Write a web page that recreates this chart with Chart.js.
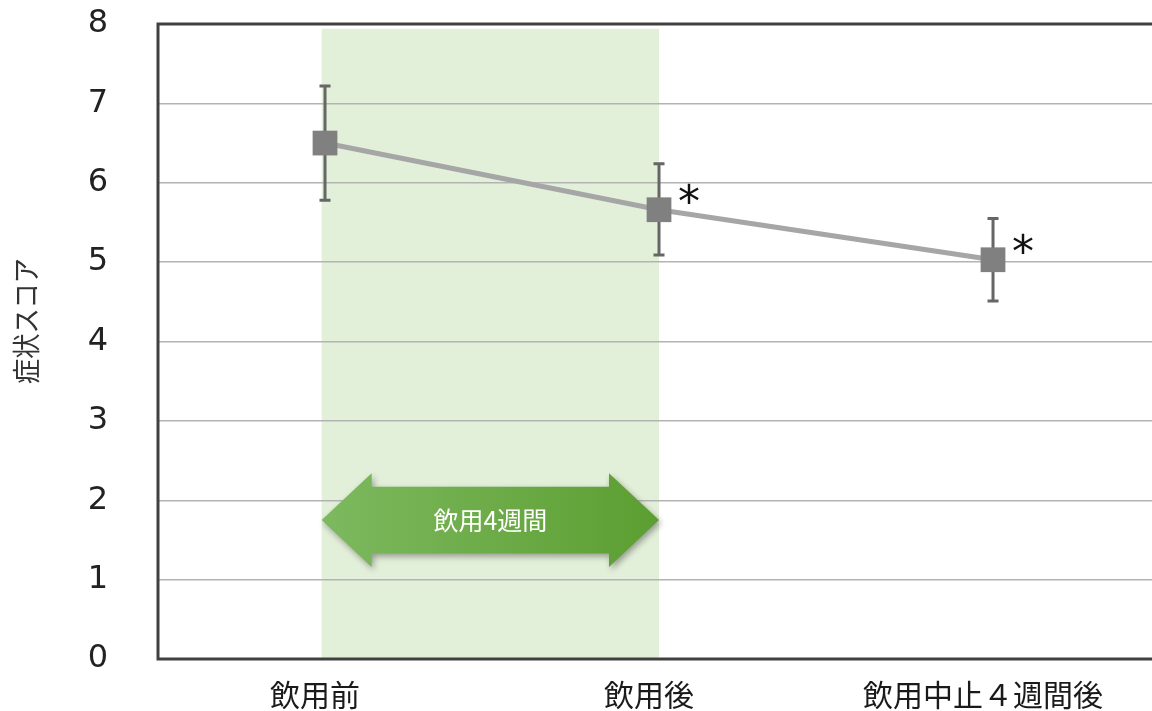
<!DOCTYPE html>
<html>
<head>
<meta charset="utf-8">
<script src="https://cdn.jsdelivr.net/npm/chart.js@4.4.1/dist/chart.umd.min.js"></script>
<style>
  html, body { margin: 0; padding: 0; background: #fff; overflow: hidden; }
  #wrap { width: 1152px; height: 711px; position: relative; }
  canvas { display: block; }
</style>
</head>
<body>
<div id="wrap"><canvas id="myChart"></canvas></div>
<script>
// data
const labels = ['飲用前', '飲用後', '飲用中止４週間後'];
const scores = [6.5, 5.66, 5.03];
const errUp = [0.72, 0.58, 0.52];
const errDown = [0.72, 0.57, 0.52];
const signif = [false, true, true];
const yTicks = [0, 1, 2, 3, 4, 5, 6, 7, 8];
const yTitle = '症状スコア';
const periodLabel = '飲用4週間';
const periodFrom = -0.01, periodTo = 1.0;   // green band (category index)
const arrowY = [1.16, 1.33, 2.17, 2.34];    // tip bottom, shaft bottom, shaft top, tip top

const points = scores.map((v, i) => ({ x: i, y: v }));
const jpFont = '"Noto Sans CJK JP", sans-serif';

// plugin: band, error bars, borders, arrow, asterisks, y title
const extras = {
  id: 'extras',
  beforeDraw(chart) {
    const { ctx, chartArea, scales: { x, y } } = chart;
    ctx.save();
    ctx.fillStyle = '#e2efd9';
    const x0 = x.getPixelForValue(periodFrom), x1 = x.getPixelForValue(periodTo);
    const yt = y.getPixelForValue(7.94);
    ctx.fillRect(x0, yt, x1 - x0, chartArea.bottom - yt);
    ctx.restore();
  },
  beforeDatasetsDraw(chart) {
    const { ctx, chartArea, scales: { x, y } } = chart;
    ctx.save();
    // borders
    ctx.strokeStyle = '#404040';
    ctx.lineWidth = 3;
    ctx.beginPath();
    ctx.moveTo(chartArea.right + 5, chartArea.top);
    ctx.lineTo(chartArea.left, chartArea.top);
    ctx.lineTo(chartArea.left, chartArea.bottom);
    ctx.lineTo(chartArea.right + 5, chartArea.bottom);
    ctx.stroke();

    // arrow
    const ax0 = x.getPixelForValue(periodFrom), ax1 = x.getPixelForValue(periodTo);
    const yb = y.getPixelForValue(arrowY[0]), sb = y.getPixelForValue(arrowY[1]);
    const st = y.getPixelForValue(arrowY[2]), yt2 = y.getPixelForValue(arrowY[3]);
    const ym = (yb + yt2) / 2;
    const head = 50;
    ctx.save();
    ctx.shadowColor = 'rgba(0,0,0,0.35)';
    ctx.shadowBlur = 6;
    ctx.shadowOffsetX = 2;
    ctx.shadowOffsetY = 3;
    const g = ctx.createLinearGradient(ax0, 0, ax1, 0);
    g.addColorStop(0, '#7db95f');
    g.addColorStop(1, '#5c9e31');
    ctx.fillStyle = g;
    ctx.beginPath();
    ctx.moveTo(ax0, ym);
    ctx.lineTo(ax0 + head, yt2);
    ctx.lineTo(ax0 + head, st);
    ctx.lineTo(ax1 - head, st);
    ctx.lineTo(ax1 - head, yt2);
    ctx.lineTo(ax1, ym);
    ctx.lineTo(ax1 - head, yb);
    ctx.lineTo(ax1 - head, sb);
    ctx.lineTo(ax0 + head, sb);
    ctx.lineTo(ax0 + head, yb);
    ctx.closePath();
    ctx.fill();
    ctx.restore();
    ctx.fillStyle = '#ffffff';
    ctx.font = '25px ' + jpFont;
    ctx.textAlign = 'center';
    ctx.textBaseline = 'middle';
    ctx.fillText(periodLabel, (ax0 + ax1) / 2, ym);

    // error bars
    ctx.strokeStyle = '#666666';
    ctx.lineWidth = 3;
    scores.forEach((v, i) => {
      const px = x.getPixelForValue(i);
      const pt = y.getPixelForValue(v + errUp[i]);
      const pb = y.getPixelForValue(v - errDown[i]);
      ctx.beginPath();
      ctx.moveTo(px, pt); ctx.lineTo(px, pb);
      ctx.moveTo(px - 5.5, pt); ctx.lineTo(px + 5.5, pt);
      ctx.moveTo(px - 5.5, pb); ctx.lineTo(px + 5.5, pb);
      ctx.stroke();
    });

    // y title (narrow glyphs like the original)
    ctx.fillStyle = '#333333';
    ctx.font = '28px ' + jpFont;
    ctx.translate(26, 321);
    ctx.rotate(-Math.PI / 2);
    ctx.scale(0.9, 1);
    ctx.textAlign = 'center';
    ctx.textBaseline = 'middle';
    ctx.fillText(yTitle, 0, 0);
    ctx.restore();
  },
  afterDatasetsDraw(chart) {
    const { ctx, scales: { x, y } } = chart;
    ctx.save();
    ctx.fillStyle = '#111111';
    ctx.font = '44px "DejaVu Sans"';
    ctx.textAlign = 'center';
    ctx.textBaseline = 'middle';
    scores.forEach((v, i) => {
      if (!signif[i]) return;
      ctx.fillText('*', x.getPixelForValue(i) + 30, y.getPixelForValue(v) - 4);
    });
    ctx.restore();
  }
};

const ctx = document.getElementById('myChart').getContext('2d');
const myChart = new Chart(ctx, {
  type: 'line',
  data: {
    datasets: [{
      data: points,
      borderColor: '#a6a6a6',
      borderWidth: 5,
      pointStyle: 'rect',
      pointRadius: 17.5,
      pointHoverRadius: 17.5,
      pointBackgroundColor: '#808080',
      pointBorderWidth: 0,
      tension: 0
    }]
  },
  options: {
    responsive: true,
    maintainAspectRatio: false,
    animation: false,
    layout: { autoPadding: false, padding: { top: 24, left: 0, right: 0, bottom: 0 } },
    plugins: {
      legend: { display: false },
      tooltip: { enabled: false }
    },
    scales: {
      x: {
        type: 'linear',
        min: -0.5,
        max: 2.476,
        afterBuildTicks: s => { s.ticks = labels.map((l, i) => ({ value: i })); },
        afterFit: s => { s.height = 52; s.paddingLeft = 0; s.paddingRight = 0; },
        grid: { display: false },
        border: { display: false },
        ticks: {
          // trailing spaces nudge the label a little left, as in the original
          callback: v => labels[v] + '   ',
          font: { size: 30, family: jpFont },
          color: '#1a1a1a',
          padding: 10,
          maxRotation: 0,
          autoSkip: false
        }
      },
      y: {
        min: 0,
        max: 8,
        afterBuildTicks: s => { s.ticks = yTicks.map(v => ({ value: v })); },
        afterFit: s => { s.width = 158; s.paddingTop = 0; s.paddingBottom = 0; },
        grid: {
          color: c => (c.tick.value === 0 || c.tick.value === 8) ? 'rgba(0,0,0,0)' : '#b3b3b3',
          lineWidth: 1.5,
          drawTicks: false
        },
        border: { display: false },
        ticks: {
          font: { size: 32, family: '"DejaVu Sans"' },
          color: '#222222',
          padding: 50
        }
      }
    }
  },
  plugins: [extras]
});
</script>
</body>
</html>
